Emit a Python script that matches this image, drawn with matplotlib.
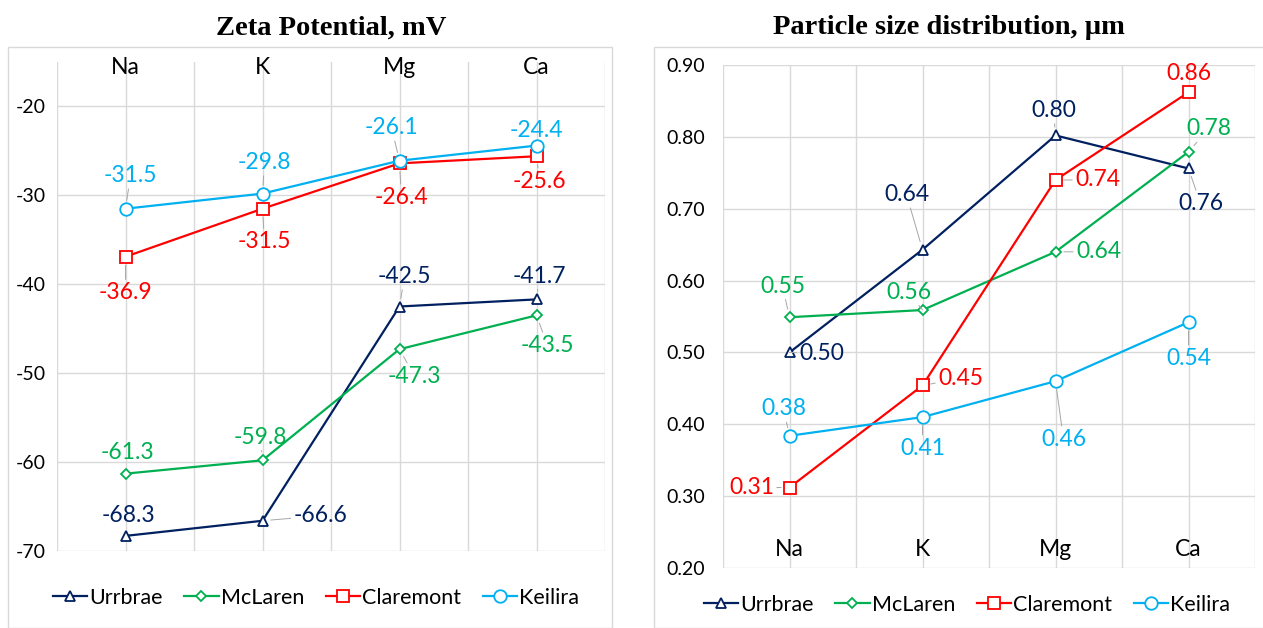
import matplotlib
matplotlib.use("Agg")
import matplotlib.pyplot as plt
from matplotlib.patches import Rectangle

categories = ["Na", "K", "Mg", "Ca"]
series_names = ["Urrbrae", "McLaren", "Claremont", "Keilira"]

zeta_urrbrae = [-68.3, -66.6, -42.5, -41.7]
zeta_mclaren = [-61.3, -59.8, -47.3, -43.5]
zeta_claremont = [-36.9, -31.5, -26.4, -25.6]
zeta_keilira = [-31.5, -29.8, -26.1, -24.4]

psd_urrbrae = [0.50, 0.643, 0.802, 0.756]
psd_mclaren = [0.549, 0.559, 0.64, 0.779]
psd_claremont = [0.312, 0.454, 0.74, 0.862]
psd_keilira = [0.384, 0.41, 0.46, 0.542]

zeta_ticks = [-70, -60, -50, -40, -30, -20]
psd_ticks = [0.20, 0.30, 0.40, 0.50, 0.60, 0.70, 0.80, 0.90]

colors = ["#002060", "#00B050", "#FF0000", "#00B0F0"]
markers = ["^", "D", "s", "o"]
msizes = [7.5, 5.5, 9, 9]

# label offsets in pixels (dx right, dy down) from point
zeta_offsets = [
    [(3, -20), (58, -5), (5, -30), (3, -23)],
    [(2, -21), (-2, -23), (15, 27), (11, 30)],
    [(0, 36), (2, 33), (2, 34), (3, 25)],
    [(5, -33), (2, -31), (-8, -33), (0, -15)],
]
psd_offsets = [
    [(32, 1), (-16, -55), (-2, -25), (12, 35)],
    [(-7, -31), (-14, -18), (43, 0), (20, -23)],
    [(-38, 0), (38, -7), (42, 0), (0, -19)],
    [(-6, -27), (0, 31), (8, 58), (0, 36)],
]

W, H = 1263, 628
fig = plt.figure(figsize=(W / 100, H / 100), dpi=100)
LBL_FONT = ["Lato", "DejaVu Sans"]
GRID = "#D9D9D9"


def px_axes(x0, y0, x1, y1):
    return fig.add_axes([x0 / W, 1 - y1 / H, (x1 - x0) / W, (y1 - y0) / H])


def draw_panel(ax, data, offsets, yticks, ylim, fmt, cat_y_frac, tickpad):
    x = list(range(len(categories)))
    ax.set_xlim(-0.5, len(categories) - 0.5)
    ax.set_ylim(*ylim)
    for s in ax.spines.values():
        s.set_visible(False)
    for yt in yticks:
        ax.axhline(yt, color=GRID, lw=1.0, zorder=0)
    for xv in [i * 0.5 - 0.5 for i in range(2 * len(categories) + 1)]:
        ax.axvline(xv, color=GRID, lw=1.0, zorder=0)
    ax.set_xticks([])
    ax.set_yticks(yticks)
    ax.set_yticklabels([fmt(v) for v in yticks], fontsize=14, family=LBL_FONT)
    ax.tick_params(axis="y", length=0, pad=tickpad)
    for i, c in enumerate(categories):
        ax.text(i, cat_y_frac, c, transform=ax.get_xaxis_transform(),
                ha="center", va="center", fontsize=16.5, family=LBL_FONT)
    handles = []
    for si, (name, vals) in enumerate(zip(series_names, data)):
        h, = ax.plot(x, vals, color=colors[si], lw=1.6, marker=markers[si],
                     ms=msizes[si], mfc="white", mec=colors[si], mew=1.3,
                     label=name, zorder=3 + si)
        handles.append(h)
        for i, v in enumerate(vals):
            dx, dy = offsets[si][i]
            dist = (dx * dx + dy * dy) ** 0.5
            ap = None
            if dist > 22:
                ap = dict(arrowstyle="-", color="#A6A6A6", lw=0.7,
                          shrinkA=0, shrinkB=6)
            ax.annotate(fmt(v), (i, v),
                        xytext=(dx * 0.72, -dy * 0.72), textcoords="offset points",
                        ha="center", va="center", fontsize=16.5, color=colors[si],
                        family=LBL_FONT, arrowprops=ap, zorder=10)
    return handles


def zeta_fmt(v):
    return f"{v:g}" if float(v).is_integer() else f"{v:.1f}"


def psd_fmt(v):
    return f"{v:.2f}"


# outer borders
fig.add_artist(Rectangle((8 / W, 0), (612 - 8) / W, 1 - 47 / H,
                         transform=fig.transFigure, fill=False,
                         edgecolor=GRID, lw=1.0))
fig.add_artist(Rectangle((654 / W, 0), (W + 5 - 654) / W, 1 - 47 / H,
                         transform=fig.transFigure, fill=False,
                         edgecolor=GRID, lw=1.0))

ax1 = px_axes(57, 62, 605, 551)
h1 = draw_panel(ax1, [zeta_urrbrae, zeta_mclaren, zeta_claremont, zeta_keilira],
                zeta_offsets, zeta_ticks, (-70, -15), zeta_fmt,
                1 - 6 / 489, 8)

ax2 = px_axes(723, 65, 1255, 568)
h2 = draw_panel(ax2, [psd_urrbrae, psd_mclaren, psd_claremont, psd_keilira],
                psd_offsets, psd_ticks, (0.2, 0.9), psd_fmt,
                (568 - 550) / 503, 13)

fig.text(331 / W, 1 - 28 / H, "Zeta Potential, mV", ha="center", va="center",
         fontsize=20.5, fontweight="bold", family="Liberation Serif")
fig.text(949 / W, 1 - 28 / H, "Particle size distribution, µm", ha="center",
         va="center", fontsize=20.5, fontweight="bold", family="Liberation Serif")

leg_kw = dict(ncol=4, frameon=False, handlelength=1.6, handletextpad=0.1,
              columnspacing=1.0, prop={"family": LBL_FONT, "size": 15.5},
              loc="center")
fig.legend(handles=h1, bbox_to_anchor=(316 / W, 1 - 598 / H), **leg_kw)
fig.legend(handles=h2, bbox_to_anchor=(967 / W, 1 - 605 / H), **leg_kw)

fig.savefig("out.png", dpi=100)
